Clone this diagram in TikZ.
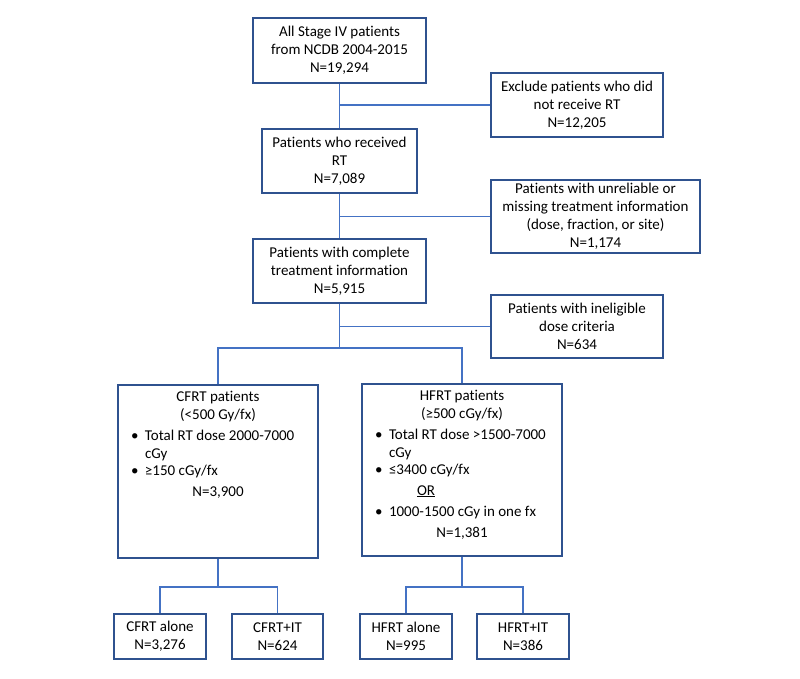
\documentclass[tikz,border=0pt]{standalone}
\usepackage{fontspec}
\setmainfont{Carlito}[Ligatures=NoCommon]
\definecolor{boxblue}{HTML}{2F528F}
\definecolor{lineblue}{HTML}{4472C4}
\newcommand{\bitem}[1]{\par\vspace{3pt}\noindent\hspace*{7pt}\makebox[14pt][l]{•}\parbox[t]{165pt}{#1}}

\begin{document}
\begin{tikzpicture}[x=1pt,y=-1pt,
		box/.style={draw=boxblue,line width=1.6pt,align=center,inner sep=2pt},
		link/.style={draw=lineblue,line width=1.3pt},
		font=\fontsize{15pt}{18pt}\selectfont]

		\useasboundingbox (0,0) rectangle (800,679);

		% main column
		\node[box,minimum width=173,minimum height=65] (all) at (339.5,50.5) {All Stage IV patients\\from NCDB 2004-2015\\N=19,294};
		\node[box,minimum width=155,minimum height=64] (rt) at (339.5,161) {Patients who received\\RT\\N=7,089};
		\node[box,minimum width=173,minimum height=64] (comp) at (339.5,271) {Patients with complete\\treatment information\\N=5,915};

		% exclusions
		\node[box,minimum width=172,minimum height=64] (norad) at (577,105) {Exclude patients who did\\not receive RT\\N=12,205};
		\node[box,minimum width=209,minimum height=73] (miss) at (595.5,216.5) {Patients with unreliable or\\missing treatment information\\(dose, fraction, or site)\\N=1,174};
		\node[box,minimum width=172,minimum height=63] (inel) at (577,326.5) {Patients with ineligible\\dose criteria\\N=634};

		% dose groups
		\node[box,inner sep=6pt,minimum width=200,minimum height=173] (cfrt) at (218,471.5) {\parbox[c][161pt][t]{188pt}{%
			{\centering CFRT patients\\(<500 Gy/fx)\par}
			\bitem{Total RT dose 2000-7000\\cGy}
			\bitem{≥150 cGy/fx}
			\par\vspace{3pt}{\centering N=3,900\par}}};
		\node[box,inner sep=6pt,minimum width=200,minimum height=172] (hfrt) at (462,470) {\parbox[c][160pt][t]{188pt}{%
			{\centering HFRT patients\\(≥500 cGy/fx)\par}
			\bitem{Total RT dose >1500-7000\\cGy}
			\bitem{≤3400 cGy/fx}
			\par\vspace{3pt}\noindent\hspace*{49pt}\underline{OR}
			\bitem{1000-1500 cGy in one fx}
			\par\vspace{3pt}{\centering N=1,381\par}}};

		% final groups
		\node[box,minimum width=92,minimum height=45] (calone) at (160,636.5) {CFRT alone\\N=3,276};
		\node[box,minimum width=91,minimum height=45] (cit) at (277.5,636.5) {CFRT+IT\\N=624};
		\node[box,minimum width=92,minimum height=45] (halone) at (406,636.5) {HFRT alone\\N=995};
		\node[box,minimum width=92,minimum height=45] (hit) at (523,636.5) {HFRT+IT\\N=386};

		\coordinate (split) at (339.5,348);
		\coordinate (csplit) at (218,587);
		\coordinate (hsplit) at (462,587);

		\draw[link] (all.south) -- (rt.north);
		\draw[link] (all.south |- norad.west) -- (norad.west);
		\draw[link] (rt.south) -- (comp.north);
		\draw[link] (rt.south |- miss.west) -- (miss.west);
		\draw[link] (comp.south) -- (split);
		\draw[link] (comp.south |- inel.west) -- (inel.west);
		\draw[link] (cfrt.north) |- (split) -| (hfrt.north);

		\draw[link] (cfrt.south) -- (csplit);
		\draw[link] (calone.north) |- (csplit) -| (cit.north);
		\draw[link] (hfrt.south) -- (hsplit);
		\draw[link] (halone.north) |- (hsplit) -| (hit.north);

	\end{tikzpicture}
\end{document}
